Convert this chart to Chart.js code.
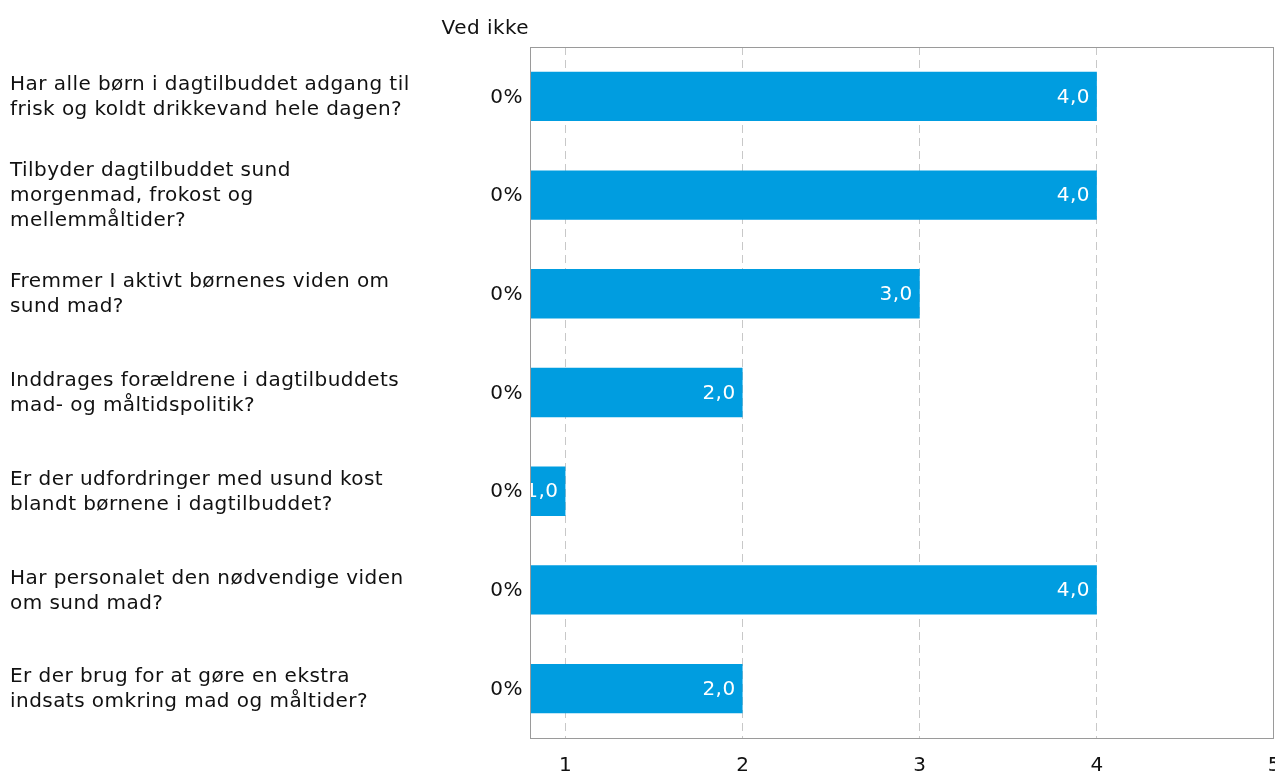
<!DOCTYPE html>
<html>
<head>
<meta charset="utf-8">
<script src="https://cdn.jsdelivr.net/npm/chart.js@4"></script>
<style>
  body { margin: 0; background: #fff; }
  #wrap { width: 1275px; height: 772px; }
</style>
</head>
<body>
<div id="wrap"><canvas id="chart"></canvas></div>
<script>
const questions = [
    ['Har alle børn i dagtilbuddet adgang til', 'frisk og koldt drikkevand hele dagen?'],
    ['Tilbyder dagtilbuddet sund', 'morgenmad, frokost og', 'mellemmåltider?'],
    ['Fremmer I aktivt børnenes viden om', 'sund mad?'],
    ['Inddrages forældrene i dagtilbuddets', 'mad- og måltidspolitik?'],
    ['Er der udfordringer med usund kost', 'blandt børnene i dagtilbuddet?'],
    ['Har personalet den nødvendige viden', 'om sund mad?'],
    ['Er der brug for at gøre en ekstra', 'indsats omkring mad og måltider?']
];
const scores = [4.0, 4.0, 3.0, 2.0, 1.0, 4.0, 2.0];
const vedIkke = [0, 0, 0, 0, 0, 0, 0];
const xTicks = [1, 2, 3, 4, 5];

const FONT = '"DejaVu Sans", Verdana, sans-serif';
const FS = 20;
const SPACING = '0.45px';

const fmt = v => v.toFixed(1).replace('.', ',');

const textPlugin = {
    id: 'textPlugin',
    afterDatasetsDraw(chart) {
        const ctx = chart.ctx;
        const area = chart.chartArea;
        const y = chart.scales.y;
        const meta = chart.getDatasetMeta(0);

        // value labels inside bar ends, clipped to plot area
        ctx.save();
        ctx.beginPath();
        ctx.rect(area.left, area.top, area.right - area.left, area.bottom - area.top);
        ctx.clip();
        ctx.font = FS + 'px ' + FONT;
        ctx.letterSpacing = SPACING;
        ctx.fillStyle = '#ffffff';
        ctx.textAlign = 'right';
        ctx.textBaseline = 'middle';
        meta.data.forEach((bar, i) => {
            ctx.fillText(fmt(scores[i]), bar.x - 7, bar.y + 1);
        });
        ctx.restore();

        // plot frame
        ctx.save();
        ctx.strokeStyle = '#9a9a9a';
        ctx.lineWidth = 1;
        ctx.strokeRect(area.left + 0.5, area.top + 0.5, area.right - area.left - 1, area.bottom - area.top);
        ctx.restore();

        // question labels and "Ved ikke" column
        ctx.save();
        ctx.font = FS + 'px ' + FONT;
        ctx.letterSpacing = SPACING;
        ctx.fillStyle = '#111111';
        ctx.textBaseline = 'middle';
        const lh = 25;
        questions.forEach((lines, i) => {
            const cy = y.getPixelForValue(i);
            const start = cy - (lines.length - 1) * lh / 2;
            ctx.textAlign = 'left';
            lines.forEach((ln, j) => ctx.fillText(ln, 10, start + j * lh + 1));
            ctx.textAlign = 'right';
            ctx.fillText(vedIkke[i] + '%', 523, cy + 1);
        });
        ctx.textAlign = 'right';
        ctx.fillText('Ved ikke', 529, 29);
        ctx.restore();
    }
};

new Chart(document.getElementById('chart'), {
    type: 'bar',
    data: {
        labels: questions,
        datasets: [{
            data: scores,
            backgroundColor: '#009de0',
            borderWidth: 0,
            barPercentage: 0.5,
            categoryPercentage: 1.0
        }]
    },
    options: {
        indexAxis: 'y',
        responsive: true,
        maintainAspectRatio: false,
        animation: false,
        layout: { padding: { left: 530, right: 1, top: 47, bottom: 0 } },
        plugins: {
            legend: { display: false },
            tooltip: { enabled: false }
        },
        scales: {
            x: {
                min: 0.8,
                max: 5,
                afterBuildTicks: scale => { scale.ticks = xTicks.map(v => ({ value: v })); },
                afterFit: scale => {
                    scale.height = 34;
                    scale.paddingLeft = 0;
                    scale.paddingRight = 0;
                },
                grid: {
                    drawTicks: false,
                    color: ctx => ctx.tick && ctx.tick.value === 5 ? 'rgba(0,0,0,0)' : '#c8c8c8',
                    lineWidth: 1
                },
                border: { display: false, dash: [8, 5] },
                ticks: {
                    padding: 16,
                    color: '#111111',
                    font: { family: FONT, size: FS },
                    callback: v => String(v),
                    maxRotation: 0,
                    autoSkip: false
                }
            },
            y: {
                display: false
            }
        }
    },
    plugins: [textPlugin]
});
</script>
</body>
</html>
